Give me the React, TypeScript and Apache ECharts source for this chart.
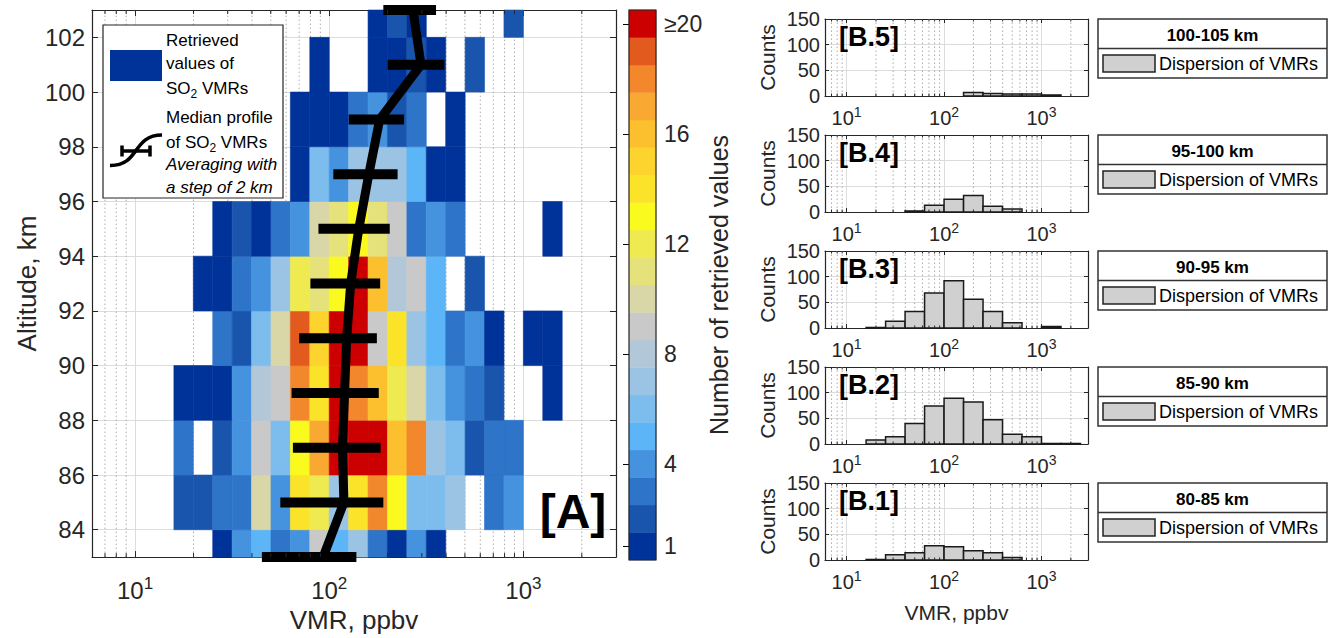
import React, { useEffect, useRef } from 'react';
import * as echarts from 'echarts';

const FONT = '"Liberation Sans", Arial, Helvetica, sans-serif';
const INK = '#262626';
const MAJOR_GRID = '#dcdcdc';
const MINOR_GRID = '#ababab';

// ---------- Panel A : number of retrieved values per (VMR bin, altitude bin) ----------
const vmrBinLowLog10 = [1.2, 1.3, 1.4, 1.5, 1.6, 1.7, 1.8, 1.9, 2.0, 2.1, 2.2, 2.3, 2.4, 2.5, 2.6, 2.7, 2.8, 2.9, 3.0, 3.1];
const vmrBinWidthLog10 = 0.1;
const altitudeRowLow = [82, 84, 86, 88, 90, 92, 94, 96, 98, 100, 102];
const altitudeRowHeight = 2;
const counts82to84 = [0, 0, 1, 4, 5, 3, 4, 9, 5, 7, 3, 1, 4, 1, 0, 0, 0, 0, 0, 0];
const counts84to86 = [2, 2, 3, 3, 10, 4, 14, 12, 7, 14, 18, 13, 6, 6, 7, 0, 3, 4, 0, 0];
const counts86to88 = [3, 0, 2, 4, 9, 6, 13, 17, 24, 26, 22, 16, 18, 7, 6, 2, 3, 3, 0, 0];
const counts88to90 = [1, 1, 1, 4, 8, 9, 18, 14, 25, 18, 16, 12, 10, 6, 4, 3, 2, 0, 0, 1];
const counts90to92 = [0, 0, 3, 2, 6, 10, 19, 15, 27, 23, 9, 14, 7, 5, 3, 4, 1, 0, 1, 1];
const counts92to94 = [0, 1, 1, 3, 4, 7, 12, 11, 13, 22, 16, 8, 9, 5, 0, 2, 0, 0, 0, 0];
const counts94to96 = [0, 0, 1, 2, 1, 3, 4, 10, 11, 13, 11, 9, 3, 4, 3, 0, 0, 0, 0, 1];
const counts96to98 = [0, 0, 0, 0, 0, 0, 1, 6, 4, 7, 7, 7, 5, 1, 1, 0, 0, 0, 0, 0];
const counts98to100 = [0, 0, 0, 0, 0, 0, 1, 1, 1, 3, 4, 2, 3, 0, 1, 0, 0, 0, 0, 0];
const counts100to102 = [0, 0, 0, 0, 0, 0, 0, 1, 0, 0, 1, 1, 2, 1, 0, 2, 0, 0, 0, 0];
const counts102to104 = [0, 0, 0, 0, 0, 0, 0, 0, 0, 0, 1, 2, 1, 0, 0, 0, 0, 2, 0, 0];
const countRows = [counts82to84, counts84to86, counts86to88, counts88to90, counts90to92, counts92to94,
  counts94to96, counts96to98, counts98to100, counts100to102, counts102to104];

// colour bar
const colorbarLevels = [1, 2, 3, 4, 5, 6, 7, 8, 9, 10, 11, 12, 13, 14, 15, 16, 17, 18, 19, 20];
const levelColors = ['#003399', '#1a55ad', '#2e74c9', '#4593df', '#5bb5f6', '#7cbdee', '#9bc4e4', '#b2c8d8',
  '#c9c9c9', '#d9d6a8', '#e5e27b', '#eeea50', '#fafa1f', '#fbe32a', '#fcd42d', '#fcc02e', '#f9a832', '#f2882b',
  '#e35a1f', '#cc0000'];
const colorbarTicks = [1, 4, 8, 12, 16, 20];

// median profile (2 km step)
const medianAltitude = [83, 85, 87, 89, 91, 93, 95, 97, 99, 101, 103];
const medianVmr = [93, 119, 117, 120, 123, 129, 142, 160, 182, 297, 270];
const medianLow = [45, 56, 65, 64, 70, 80, 88, 105, 126, 200, 190];
const medianHigh = [138, 190, 184, 180, 176, 183, 205, 225, 243, 392, 355];

// ---------- Panels B : histograms ----------
const histBinLowLog10 = [1.2, 1.4, 1.6, 1.8, 2.0, 2.2, 2.4, 2.6, 2.8, 3.0, 3.2];
const histBinWidthLog10 = 0.2;
const histCounts100to105 = [0, 0, 0, 0, 0, 7, 5, 4, 4, 2, 0];
const histCounts95to100 = [0, 0, 2, 13, 25, 32, 11, 6, 0, 0, 0];
const histCounts90to95 = [1, 13, 32, 68, 92, 56, 32, 10, 0, 3, 0];
const histCounts85to90 = [8, 14, 40, 74, 89, 82, 47, 19, 14, 1, 1];
const histCounts80to85 = [1, 10, 14, 28, 26, 18, 14, 5, 0, 0, 0];
const histPanels = [histCounts100to105, histCounts95to100, histCounts90to95, histCounts85to90, histCounts80to85];
const histPanelTags = ['[B.5]', '[B.4]', '[B.3]', '[B.2]', '[B.1]'];
const histRangeLabels = ['100-105 km', '95-100 km', '90-95 km', '85-90 km', '80-85 km'];

const minorVmrLines = [7, 8, 9, 20, 30, 40, 50, 60, 70, 80, 90, 200, 300, 400, 500, 600, 700, 800, 900, 2000];

// ---------- layout ----------
const A = { left: 92, top: 10, width: 524, height: 550 };
const CB = { left: 629, top: 10, width: 27, height: 550 };
const B_LEFT = 825, B_WIDTH = 263, B_HEIGHT = 77;
const B_TOPS = [19, 135, 251, 367, 483];

const logLabel = (v: number) => {
  const e = Math.round(Math.log10(v));
  if (Math.abs(v - Math.pow(10, e)) > 1e-6 * v) return '';
  return '{n|10}{s|' + e + '}';
};
const richFor = (fs: number) => ({
  n: { fontSize: fs, fontFamily: FONT, color: INK, lineHeight: fs + 6 },
  s: { fontSize: Math.round(fs * 0.72), fontFamily: FONT, color: INK, lineHeight: Math.round(fs * 0.28 + 6), verticalAlign: 'top' },
});

function logAxis(gridIndex: number, position: string, labels: boolean, fs: number, margin: number, tickLen: number, extra: any = {}) {
  return {
    gridIndex, type: 'log', logBase: 10, min: 6, max: 3000, position,
    axisLine: { show: true, onZero: false, lineStyle: { color: INK, width: 1.2 } },
    axisTick: { show: true, inside: true, length: tickLen, lineStyle: { color: INK, width: 1 } },
    axisLabel: labels ? { show: true, margin, formatter: logLabel, rich: richFor(fs) } : { show: false },
    splitLine: { show: position === 'bottom', lineStyle: { color: MAJOR_GRID, width: 1 } },
    minorTick: { show: false }, minorSplitLine: { show: false },
    ...extra,
  };
}

function minorGrid(xi: number, yi: number, yMin: number, yMax: number) {
  return {
    type: 'custom', xAxisIndex: xi, yAxisIndex: yi, silent: true, z: 1,
    data: minorVmrLines.map((v) => [v, yMin]),
    renderItem: (_p: any, api: any) => {
      const v = api.value(0);
      const a = api.coord([v, yMin]);
      const b = api.coord([v, yMax]);
      return { type: 'line', shape: { x1: a[0], y1: a[1], x2: b[0], y2: b[1] },
        style: { stroke: MINOR_GRID, lineWidth: 1, lineDash: [1.5, 2.5] } };
    },
  };
}
function minorTicks(xi: number, yi: number, yMin: number, yMax: number, len: number) {
  return {
    type: 'custom', xAxisIndex: xi, yAxisIndex: yi, silent: true, z: 9,
    data: minorVmrLines.map((v) => [v, yMin]),
    renderItem: (_p: any, api: any) => {
      const v = api.value(0);
      const a = api.coord([v, yMin]);
      const b = api.coord([v, yMax]);
      return { type: 'group', children: [
        { type: 'line', shape: { x1: a[0], y1: a[1], x2: a[0], y2: a[1] - len }, style: { stroke: INK, lineWidth: 1 } },
        { type: 'line', shape: { x1: b[0], y1: b[1], x2: b[0], y2: b[1] + len }, style: { stroke: INK, lineWidth: 1 } },
      ] };
    },
  };
}

function buildOption() {
  const grid: any[] = [
    { left: A.left, top: A.top, width: A.width, height: A.height },
    { left: CB.left, top: CB.top, width: CB.width, height: CB.height },
  ];
  B_TOPS.forEach((t) => grid.push({ left: B_LEFT, top: t, width: B_WIDTH, height: B_HEIGHT }));

  const titleStyle = (fs: number) => ({ fontSize: fs, fontFamily: FONT, color: INK });

  const xAxis: any[] = [
    logAxis(0, 'bottom', true, 24, 18, 6, { name: 'VMR, ppbv', nameLocation: 'middle', nameGap: 49, nameTextStyle: titleStyle(26) }),
    logAxis(0, 'top', false, 24, 0, 6),
    { gridIndex: 1, type: 'value', min: 0, max: 1, show: false },
  ];
  const yAxis: any[] = [
    {
      gridIndex: 0, type: 'value', min: 83, max: 103, splitNumber: 10, position: 'left',
      axisLine: { show: true, lineStyle: { color: INK, width: 1.2 } },
      axisTick: { show: true, inside: true, length: 6, lineStyle: { color: INK } },
      axisLabel: { formatter: (v: number) => (Math.abs(v % 2) < 1e-6 && v > 83.5 && v < 102.5 ? String(Math.round(v)) : ''),
        fontSize: 24, fontFamily: FONT, color: INK, margin: 7 },
      splitLine: { show: true, lineStyle: { color: MAJOR_GRID, width: 1 } },
      name: 'Altitude, km', nameLocation: 'middle', nameGap: 52, nameRotate: 90, nameTextStyle: titleStyle(26),
    },
    {
      gridIndex: 0, type: 'value', min: 83, max: 103, splitNumber: 10, position: 'right',
      axisLine: { show: true, lineStyle: { color: INK, width: 1.2 } },
      axisTick: { show: true, inside: true, length: 6, lineStyle: { color: INK } },
      axisLabel: { show: false }, splitLine: { show: false },
    },
    {
      gridIndex: 1, type: 'value', min: 0.5, max: 20.5, position: 'right', z: 10,
      axisLine: { show: false },
      axisTick: { show: true, inside: true, length: 6, customValues: colorbarTicks, lineStyle: { color: '#000', width: 1 } },
      axisLabel: { customValues: colorbarTicks, formatter: (v: number) => (v === 20 ? '≥20' : String(v)),
        fontSize: 23, fontFamily: FONT, color: INK, margin: 8 },
      splitLine: { show: false },
      name: 'Number of retrieved values', nameLocation: 'middle', nameGap: 42, nameRotate: 90, nameTextStyle: titleStyle(25),
    },
  ];

  const series: any[] = [];
  series.push(minorGrid(0, 0, 83, 103));
  series.push(minorTicks(0, 0, 83, 103, 4));

  const heatData: any[] = [];
  altitudeRowLow.forEach((alt, r) => {
    countRows[r].forEach((c, k) => {
      if (c > 0) heatData.push([Math.pow(10, vmrBinLowLog10[k]), Math.pow(10, vmrBinLowLog10[k] + vmrBinWidthLog10), alt, alt + altitudeRowHeight, c]);
    });
  });
  series.push({
    type: 'custom', xAxisIndex: 0, yAxisIndex: 0, silent: true, z: 3,
    encode: { x: [0, 1], y: [2, 3] },
    data: heatData,
    renderItem: (_p: any, api: any) => {
      const y0 = Math.max(api.value(2), 83);
      const y1 = Math.min(api.value(3), 103);
      const p0 = api.coord([api.value(0), y0]);
      const p1 = api.coord([api.value(1), y1]);
      const c = levelColors[Math.min(api.value(4), 20) - 1];
      return { type: 'rect', shape: { x: p0[0], y: p1[1], width: p1[0] - p0[0], height: p0[1] - p1[1] },
        style: { fill: c, stroke: c, lineWidth: 0.6 } };
    },
  });
  series.push({
    type: 'line', xAxisIndex: 0, yAxisIndex: 0, silent: true, z: 5, symbol: 'none', showSymbol: false,
    data: medianVmr.map((v, i) => [v, medianAltitude[i]]),
    lineStyle: { color: '#000', width: 9, cap: 'butt', join: 'miter' },
  });
  series.push({
    type: 'custom', xAxisIndex: 0, yAxisIndex: 0, silent: true, z: 6, clip: false,
    data: medianAltitude.map((a, i) => [medianLow[i], medianHigh[i], a]),
    encode: { x: [0, 1], y: 2 },
    renderItem: (_p: any, api: any) => {
      const p0 = api.coord([api.value(0), api.value(2)]);
      const p1 = api.coord([api.value(1), api.value(2)]);
      return { type: 'line', shape: { x1: p0[0], y1: p0[1], x2: p1[0], y2: p1[1] }, style: { stroke: '#000', lineWidth: 10 } };
    },
  });
  series.push({
    type: 'custom', xAxisIndex: 2, yAxisIndex: 2, silent: true, z: 3,
    data: colorbarLevels.map((l) => [0, l]),
    renderItem: (_p: any, api: any) => {
      const l = api.value(1);
      const p0 = api.coord([0, l - 0.5]);
      const p1 = api.coord([1, l + 0.5]);
      const c = levelColors[l - 1];
      return { type: 'rect', shape: { x: p0[0], y: p1[1], width: p1[0] - p0[0], height: p0[1] - p1[1] },
        style: { fill: c, stroke: c, lineWidth: 0.5 } };
    },
  });

  histPanels.forEach((counts, k) => {
    const g = 2 + k;
    const xb = xAxis.length;
    const last = k === histPanels.length - 1;
    xAxis.push(logAxis(g, 'bottom', true, 20, 9, 4, last
      ? { name: 'VMR, ppbv', nameLocation: 'middle', nameGap: 42, nameTextStyle: titleStyle(21) } : {}));
    xAxis.push(logAxis(g, 'top', false, 20, 0, 4));
    const yb = yAxis.length;
    yAxis.push({
      gridIndex: g, type: 'value', min: 0, max: 150, interval: 50, position: 'left',
      axisLine: { show: true, lineStyle: { color: INK, width: 1.2 } },
      axisTick: { show: true, inside: true, length: 4, lineStyle: { color: INK } },
      axisLabel: { fontSize: 20, fontFamily: FONT, color: INK, margin: 5 },
      splitLine: { show: true, lineStyle: { color: MAJOR_GRID, width: 1 } },
      name: 'Counts', nameLocation: 'middle', nameGap: 47, nameRotate: 90, nameTextStyle: titleStyle(21),
    });
    yAxis.push({
      gridIndex: g, type: 'value', min: 0, max: 150, interval: 50, position: 'right',
      axisLine: { show: true, lineStyle: { color: INK, width: 1.2 } },
      axisTick: { show: true, inside: true, length: 4, lineStyle: { color: INK } },
      axisLabel: { show: false }, splitLine: { show: false },
    });
    series.push(minorGrid(xb, yb, 0, 150));
    series.push(minorTicks(xb, yb, 0, 150, 2.5));
    const data: any[] = [];
    counts.forEach((c, i) => {
      if (c > 0) data.push([Math.pow(10, histBinLowLog10[i]), Math.pow(10, histBinLowLog10[i] + histBinWidthLog10), c]);
    });
    series.push({
      type: 'custom', xAxisIndex: xb, yAxisIndex: yb, silent: true, z: 4,
      encode: { x: [0, 1], y: 2 },
      data,
      renderItem: (_p: any, api: any) => {
        const p0 = api.coord([api.value(0), 0]);
        const p1 = api.coord([api.value(1), api.value(2)]);
        return { type: 'rect', shape: { x: p0[0], y: p1[1], width: p1[0] - p0[0], height: p0[1] - p1[1] },
          style: { fill: '#d0d0d0', stroke: '#1a1a1a', lineWidth: 1.5 } };
      },
    });
  });

  const text = (x: number, y: number, t: string, o: any = {}) => ({
    type: 'text', x, y, z: 40, silent: true,
    style: {
      text: t, fill: o.fill || '#000', fontSize: o.fontSize || 17, fontFamily: FONT,
      fontWeight: o.fontWeight || 'normal', fontStyle: o.fontStyle || 'normal',
      align: o.align || 'left', textAlign: o.align || 'left', verticalAlign: 'middle', textVerticalAlign: 'middle',
      rich: o.rich,
    },
  });
  const so2Rich = {
    t: { fontSize: 17, fontFamily: FONT, fill: '#000', color: '#000', lineHeight: 24 },
    s: { fontSize: 12, fontFamily: FONT, fill: '#000', color: '#000', lineHeight: 12, verticalAlign: 'bottom' },
  };
  const graphic: any[] = [
    { type: 'rect', z: 38, silent: true, shape: { x: 103, y: 25, width: 180, height: 173 }, style: { fill: '#fff', stroke: INK, lineWidth: 1.2 } },
    { type: 'rect', z: 39, silent: true, shape: { x: 110, y: 50, width: 52, height: 31 }, style: { fill: levelColors[0] } },
    text(166, 40, 'Retrieved'),
    text(166, 63, 'values of'),
    text(166, 88, '{t|SO}{s|2}{t| VMRs}', { rich: so2Rich }),
    text(166, 117, 'Median profile'),
    text(166, 142, '{t|of SO}{s|2}{t| VMRs}', { rich: so2Rich }),
    text(166, 164, 'Averaging with', { fontStyle: 'italic' }),
    text(166, 187, 'a step of 2 km', { fontStyle: 'italic' }),
    { type: 'bezierCurve', z: 39, silent: true,
      shape: { x1: 110, y1: 165.5, cpx1: 140, cpy1: 166, cpx2: 132, cpy2: 135, x2: 162, y2: 135 },
      style: { stroke: '#000', lineWidth: 3.5, fill: 'none' } },
    { type: 'line', z: 39, silent: true, shape: { x1: 122, y1: 151, x2: 150, y2: 151 }, style: { stroke: '#000', lineWidth: 3.5 } },
    { type: 'line', z: 39, silent: true, shape: { x1: 122, y1: 145.5, x2: 122, y2: 156.5 }, style: { stroke: '#000', lineWidth: 3.5 } },
    { type: 'line', z: 39, silent: true, shape: { x1: 150, y1: 145.5, x2: 150, y2: 156.5 }, style: { stroke: '#000', lineWidth: 3.5 } },
    text(573, 511, '[A]', { fontSize: 48, fontWeight: 'bold', align: 'center' }),
    { type: 'rect', z: 40, silent: true, shape: { x: CB.left, y: CB.top, width: CB.width, height: CB.height }, style: { fill: 'none', stroke: INK, lineWidth: 1.2 } },
  ];
  B_TOPS.forEach((t, k) => {
    graphic.push(text(839, t + 18, histPanelTags[k], { fontSize: 27, fontWeight: 'bold' }));
    graphic.push({ type: 'rect', z: 38, silent: true, shape: { x: 1098, y: t, width: 229, height: 59 }, style: { fill: '#fff', stroke: '#333', lineWidth: 1.5 } });
    graphic.push({ type: 'line', z: 39, silent: true, shape: { x1: 1098, y1: t + 29.5, x2: 1327, y2: t + 29.5 }, style: { stroke: '#333', lineWidth: 1.5 } });
    graphic.push(text(1212.5, t + 16, histRangeLabels[k], { fontSize: 17, fontWeight: 'bold', align: 'center' }));
    graphic.push({ type: 'rect', z: 39, silent: true, shape: { x: 1103, y: t + 36, width: 52, height: 17 }, style: { fill: '#d0d0d0', stroke: '#222', lineWidth: 1.5 } });
    graphic.push(text(1159, t + 45, 'Dispersion of VMRs', { fontSize: 18 }));
  });

  return { animation: false, backgroundColor: '#fff', grid, xAxis, yAxis, series, graphic };
}

export default function App() {
  const ref = useRef<HTMLDivElement>(null);
  useEffect(() => {
    const chart = echarts.init(ref.current as HTMLDivElement, undefined, { renderer: 'svg' });
    chart.setOption(buildOption() as any);
    return () => chart.dispose();
  }, []);
  return <div ref={ref} style={{ position: 'fixed', left: 0, top: 0, width: 1333, height: 638, background: '#fff' }} />;
}
